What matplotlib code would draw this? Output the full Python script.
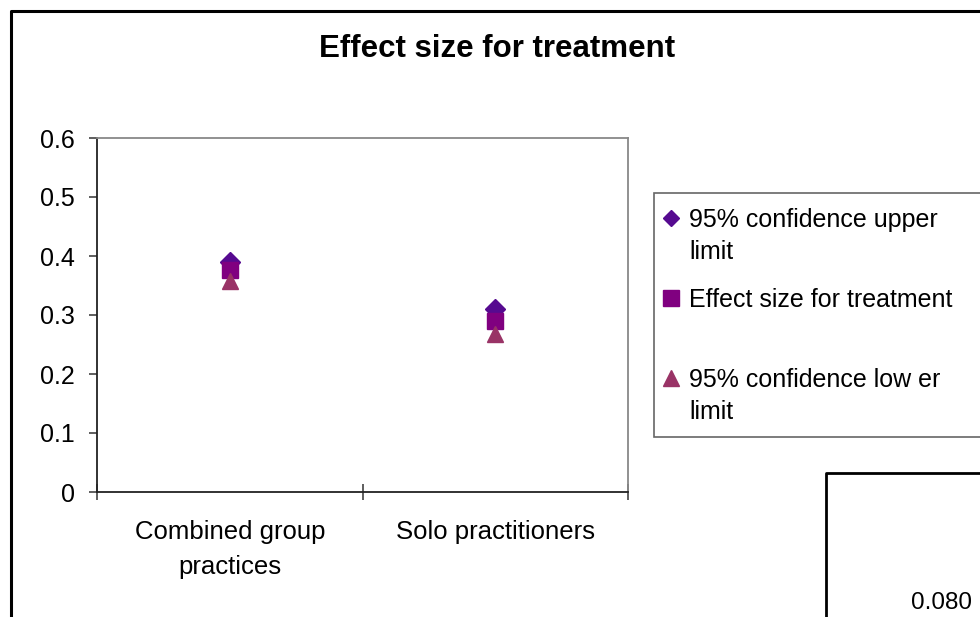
import matplotlib
matplotlib.use('Agg')
import matplotlib.pyplot as plt
from matplotlib.lines import Line2D
from matplotlib.patches import Rectangle

plt.rcParams['font.family'] = ['Liberation Sans', 'DejaVu Sans']

# data
categories = ['Combined group\npractices', 'Solo practitioners']
upper_limit = [0.390, 0.310]
effect_size = [0.376, 0.289]
lower_limit = [0.357, 0.267]
series_names = ['95% confidence upper\nlimit', 'Effect size for treatment', '95% confidence low er\nlimit']
series_colors = ['#560a90', '#800080', '#993366']
series_markers = ['D', 's', '^']
series_sizes = [10, 11, 12]
y_ticks = [0, 0.1, 0.2, 0.3, 0.4, 0.5, 0.6]
y_labels = ['0', '0.1', '0.2', '0.3', '0.4', '0.5', '0.6']

W, H = 980, 617
fig = plt.figure(figsize=(W / 100, H / 100), dpi=100)


def fx(px):
    return px / W


def fy(py):
    return 1 - py / H


ax = fig.add_axes([fx(97), fy(492), fx(628) - fx(97), fy(138) - fy(492)])

xpos = [i + 0.5 for i in range(len(categories))]
for vals, c, m, s in zip([upper_limit, effect_size, lower_limit], series_colors, series_markers, series_sizes):
    ax.plot(xpos, vals, linestyle='none', marker=m, markersize=s, color=c, markeredgecolor=c, clip_on=False)

ax.set_xlim(0, len(categories))
ax.set_ylim(0, 0.6)
ax.set_yticks(y_ticks)
ax.set_yticklabels(y_labels, fontsize=18)
ax.set_xticks(range(len(categories) + 1))
ax.set_xticklabels([])
ax.set_xticks(xpos, minor=True)
ax.set_xticklabels(categories, minor=True, fontsize=18.5, linespacing=1.6)
ax.tick_params(axis='x', which='major', direction='inout', length=12, width=1.1, color='#333333')
ax.tick_params(axis='x', which='minor', length=0, pad=20)
ax.tick_params(axis='y', direction='out', length=6, width=1.1, pad=10, color='#333333')
for side in ['left', 'bottom']:
    ax.spines[side].set_color('#222222')
    ax.spines[side].set_linewidth(1.3)
for side in ['top', 'right']:
    ax.spines[side].set_color('#888888')
    ax.spines[side].set_linewidth(1.3)

fig.text(fx(497), fy(49), 'Effect size for treatment', fontsize=22.5, fontweight='bold',
         ha='center', va='center')

# legend box, drawn Excel style
fig.add_artist(Rectangle((fx(654), fy(437)), fx(340), fy(193) - fy(437), transform=fig.transFigure,
                         facecolor='white', edgecolor='#666666', linewidth=1.2))
legend_rows = [218, 298, 378]
legend_sizes = [8, 12, 12]
for row, name, c, m, s in zip(legend_rows, series_names, series_colors, series_markers, legend_sizes):
    fig.add_artist(Line2D([fx(671)], [fy(row)], transform=fig.transFigure, marker=m,
                          markersize=s, color=c, linestyle='none'))
    fig.text(fx(689), fy(row - 10), name, fontsize=18, ha='left', va='top', linespacing=1.4)

# outer chart frame and the neighbouring chart peeking in
fig.add_artist(Line2D([fx(11), fx(11), fx(985)], [fy(620), fy(11), fy(11)],
                      transform=fig.transFigure, color='black', linewidth=2.2))
fig.add_artist(Line2D([fx(826), fx(826), fx(985)], [fy(620), fy(473), fy(473)],
                      transform=fig.transFigure, color='black', linewidth=2.0))
fig.text(fx(941), fy(603), '0.080', fontsize=17.5, ha='center', va='center')

fig.savefig('out.png', dpi=100, facecolor='white')
